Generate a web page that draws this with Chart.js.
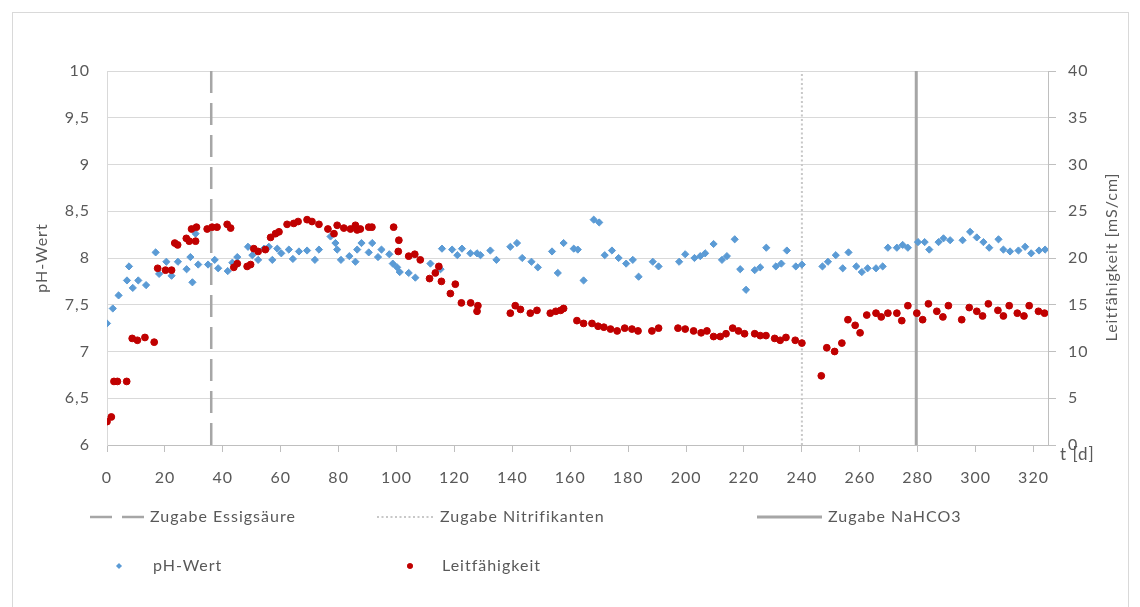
<!DOCTYPE html>
<html><head><meta charset="utf-8">
<script src="https://cdn.jsdelivr.net/npm/chart.js@4.4.1/dist/chart.umd.min.js"></script>
<style>html,body{margin:0;padding:0;background:#fff}#wrap{position:relative;width:1140px;height:607px}canvas{display:block}</style>
</head><body><div id="wrap"><canvas id="c" width="1140" height="607"></canvas></div>
<script>
// ---- data ----
const phDays = [0,2,4,6.9,7.6,8.9,10.8,13.5,16.8,18,20.5,22.3,24.5,27.5,28.8,29.5,30.6,31.5,34.9,37.2,38.4,41.7,43.3,45,48.7,50.2,52.2,54.2,55.9,57.1,58.8,60.2,62.8,64.2,66.3,69.1,71.8,73.2,77.2,78.9,79.5,80.8,83.7,85.8,86.4,87.9,90.4,91.6,93.6,94.8,97.5,98.7,100.2,101.1,104.2,106.5,111.7,115.2,115.7,119.2,121,122.6,125.5,127.8,129,132.4,134.5,139.3,141.6,143.4,146.6,148.8,153.7,155.7,157.7,161.2,162.6,164.6,168.1,170,171.9,174.4,176.7,179.3,181.6,183.6,188.5,190.5,197.6,199.7,202.9,204.9,206.6,209.5,212.4,214.1,216.8,218.7,220.7,223.7,225.6,227.7,231,232.9,234.8,237.9,240,247.1,249,251.7,254.1,256.1,258.8,260.7,262.7,265.6,267.9,269.7,272.8,274.8,276.6,280.1,282.4,284,287.2,288.9,291.2,295.5,298.1,300.4,302.7,304.7,307.9,309.6,311.9,314.8,317.1,319.2,321.9,324];
const phValues = [7.3,7.46,7.6,7.76,7.91,7.68,7.76,7.71,8.06,7.83,7.96,7.81,7.96,7.88,8.01,7.74,8.26,7.93,7.93,7.98,7.89,7.86,7.95,8.01,8.12,8.03,7.98,8.10,8.12,7.98,8.10,8.05,8.09,7.99,8.07,8.08,7.98,8.09,8.23,8.16,8.09,7.98,8.02,7.96,8.09,8.16,8.06,8.16,8.01,8.09,8.04,7.94,7.90,7.85,7.84,7.79,7.94,7.88,8.10,8.09,8.03,8.10,8.05,8.05,8.03,8.08,7.98,8.12,8.16,8.00,7.96,7.90,8.07,7.84,8.16,8.10,8.09,7.76,8.41,8.38,8.03,8.08,8.00,7.94,7.98,7.80,7.96,7.91,7.96,8.04,8.00,8.02,8.05,8.15,7.98,8.02,8.20,7.88,7.66,7.87,7.90,8.11,7.91,7.94,8.08,7.91,7.93,7.91,7.96,8.03,7.89,8.06,7.91,7.85,7.89,7.89,7.91,8.11,8.11,8.14,8.11,8.17,8.17,8.09,8.17,8.21,8.19,8.19,8.28,8.22,8.17,8.11,8.20,8.09,8.07,8.08,8.12,8.05,8.08,8.09];
const leitDays = [0,1.5,2.4,3.6,6.8,8.7,10.5,13.1,16.3,17.5,20.2,22.3,23.4,24.4,27.4,28.4,30.6,29.2,30.9,34.6,36.3,38.0,41.5,42.7,43.8,45,48.4,49.6,50.7,52.2,54.7,56.5,58.2,59.4,62.2,64.5,66,69.1,70.8,73.2,76.3,78.4,79.5,81.8,84.1,85.8,86.4,87.5,90.4,91.5,99,100.6,100.8,104.2,106.3,108.2,111.4,113.4,114.6,115.5,118.6,120.3,122.4,125.6,128.1,127.8,139.3,141,142.8,146.2,148.5,153.1,155,156.7,157.7,162.3,164.6,167.5,169.6,171.6,173.9,176.2,178.8,181.3,183.4,188.2,190.5,197.2,199.7,202.6,205.2,207.2,209.5,211.8,213.8,216.1,218.1,220.2,223.7,225.6,227.6,230.6,232.5,234.5,237.7,240,246.7,248.6,251.3,253.8,255.9,258.4,260.1,262.4,265.6,267.4,269.7,272.8,274.5,276.6,279.7,281.7,283.7,286.6,288.7,290.6,295.2,297.8,300.4,302.4,304.4,307.7,309.6,311.6,314.4,316.7,318.5,321.7,323.8];
const leitValues = [2.5,3.0,6.8,6.8,6.8,11.4,11.2,11.5,11.0,18.9,18.7,18.7,21.6,21.4,22.1,21.8,21.8,23.1,23.3,23.1,23.3,23.3,23.6,23.2,19.0,19.4,19.1,19.3,21.0,20.7,20.9,22.2,22.6,22.8,23.6,23.7,23.9,24.1,23.9,23.6,23.1,22.6,23.5,23.2,23.1,23.5,23.0,23.1,23.3,23.3,23.3,20.7,21.9,20.2,20.4,19.8,17.8,18.4,19.1,17.5,16.2,17.2,15.2,15.2,14.9,14.3,14.1,14.9,14.5,14.1,14.4,14.1,14.3,14.4,14.6,13.3,13.0,13.0,12.7,12.6,12.4,12.2,12.5,12.4,12.2,12.2,12.5,12.5,12.4,12.2,12.0,12.2,11.6,11.6,11.9,12.5,12.2,11.9,11.9,11.7,11.7,11.4,11.2,11.5,11.2,10.9,7.4,10.4,10.0,10.9,13.4,12.8,12.0,13.9,14.1,13.7,14.1,14.1,13.3,14.9,14.1,13.4,15.1,14.3,13.7,14.9,13.4,14.7,14.3,13.8,15.1,14.4,13.8,14.9,14.1,13.8,14.9,14.3,14.1];
const eventNames = ['Zugabe Essigsäure','Zugabe Nitrifikanten','Zugabe NaHCO3'];
const eventDays = [36, 240, 279.5];
const xTickValues = [0,20,40,60,80,100,120,140,160,180,200,220,240,260,280,300,320];
const phTickValues = [6,6.5,7,7.5,8,8.5,9,9.5,10];
const leitTickValues = [0,5,10,15,20,25,30,35,40];
const seriesNames = ['pH-Wert','Leitfähigkeit'];

// ---- styling ----
const FONT = 'Lato, "Open Sans", sans-serif';
const TXT = '#595959';
const SPACING = '1px';
const eventStyles = [
  {color:'#a6a6a6', width:2.5, dash:[22,10]},
  {color:'#c8c8c8', width:2, dash:[2,2.5]},
  {color:'#a6a6a6', width:3, dash:[]}
];

const datasets = [
  {label:seriesNames[1], data:leitDays.map((d,i)=>({x:d,y:leitValues[i]})), yAxisID:'y2',
   pointStyle:'circle', pointRadius:3.4, pointHoverRadius:3.4, backgroundColor:'#c00000', borderColor:'#c00000', borderWidth:1, showLine:false, order:1},
  {label:seriesNames[0], data:phDays.map((d,i)=>({x:d,y:phValues[i]})), yAxisID:'y',
   pointStyle:'rectRot', pointRadius:3.6, pointHoverRadius:3.6, backgroundColor:'#5b9bd5', borderColor:'#5b9bd5', borderWidth:1, showLine:false, order:2}
];
eventDays.forEach((d,i)=>{
  datasets.push({label:eventNames[i], type:'line', data:[{x:d,y:6},{x:d,y:10}], yAxisID:'y',
    borderColor:eventStyles[i].color, borderWidth:eventStyles[i].width, borderDash:eventStyles[i].dash,
    pointRadius:0, showLine:true, fill:false, order:5+i});
});

const decor = {
  id:'decor',
  beforeDraw(chart){
    const ctx = chart.ctx; ctx.save();
    ctx.fillStyle='#fff'; ctx.fillRect(0,0,chart.width,chart.height);
    ctx.strokeStyle='#d9d9d9'; ctx.lineWidth=1; ctx.strokeRect(12.5,12.5,1116,606);
    ctx.restore();
    ctx.letterSpacing = SPACING;
  },
  afterDraw(chart){
    const ctx = chart.ctx; ctx.save();
    ctx.letterSpacing = SPACING;
    ctx.fillStyle = TXT; ctx.font = '16px '+FONT; ctx.textBaseline='middle';
    // axis titles
    ctx.save(); ctx.translate(42,258); ctx.rotate(-Math.PI/2); ctx.textAlign='center'; ctx.fillText('pH-Wert',0,0); ctx.restore();
    ctx.save(); ctx.translate(1112,257); ctx.rotate(-Math.PI/2); ctx.textAlign='center'; ctx.fillText('Leitfähigkeit [mS/cm]',0,0); ctx.restore();
    ctx.save(); ctx.font = '17px '+FONT; ctx.textAlign='left'; ctx.fillText('t [d]',1060,455); ctx.restore();
    // legend
    const row1 = 517, row2 = 566;
    const evPos = [[90,146,150],[377,433,440],[757,822,828]];
    evPos.forEach((p,i)=>{
      const ds = chart.data.datasets[2+i];
      ctx.save(); ctx.strokeStyle=ds.borderColor; ctx.lineWidth=ds.borderWidth; ctx.setLineDash(ds.borderDash);
      ctx.beginPath(); ctx.moveTo(p[0],row1); ctx.lineTo(p[1],row1); ctx.stroke(); ctx.restore();
      ctx.fillText(ds.label,p[2],row1);
    });
    const serPos = [[119,153,1],[410,442,0]];
    serPos.forEach(p=>{
      const ds = chart.data.datasets[p[2]];
      ctx.save(); ctx.fillStyle=ds.backgroundColor;
      Chart.helpers.drawPoint(ctx,{pointStyle:ds.pointStyle,radius:2.8,borderWidth:0,rotation:0},p[0],row2);
      ctx.fill(); ctx.restore();
      ctx.fillText(ds.label,p[1],row2);
    });
    ctx.restore();
  }
};

const tickFont = {family:FONT, size:16};
new Chart(document.getElementById('c'), {
  type:'scatter',
  data:{datasets},
  options:{
    responsive:false, animation:false, devicePixelRatio:1,
    layout:{padding:{top:71,left:0,right:0,bottom:0}},
    plugins:{legend:{display:false}, tooltip:{enabled:false}},
    scales:{
      x:{type:'linear', position:'bottom', min:0, max:325,
        afterBuildTicks:s=>{s.ticks = xTickValues.map(v=>({value:v}));},
        afterFit:s=>{s.height = 607-445;},
        grid:{drawOnChartArea:false, drawTicks:true, tickLength:7, color:'#bfbfbf'},
        border:{display:true, color:'#bfbfbf'},
        ticks:{font:tickFont, color:TXT, padding:16, maxRotation:0, autoSkip:false}},
      y:{type:'linear', position:'left', min:6, max:10,
        afterBuildTicks:s=>{s.ticks = phTickValues.map(v=>({value:v}));},
        afterFit:s=>{s.width = 107;},
        grid:{color:'#d9d9d9', drawTicks:false},
        border:{display:true, color:'#d9d9d9'},
        ticks:{font:tickFont, color:TXT, padding:17, callback:v=>String(v).replace('.',',')}},
      y2:{type:'linear', position:'right', min:0, max:40,
        afterBuildTicks:s=>{s.ticks = leitTickValues.map(v=>({value:v}));},
        afterFit:s=>{s.width = 1140-1048;},
        grid:{drawOnChartArea:false, drawTicks:true, tickLength:8, color:'#bfbfbf'},
        border:{display:true, color:'#bfbfbf'},
        ticks:{font:tickFont, color:TXT, padding:12}}
    }
  },
  plugins:[decor]
});
</script></body></html>
